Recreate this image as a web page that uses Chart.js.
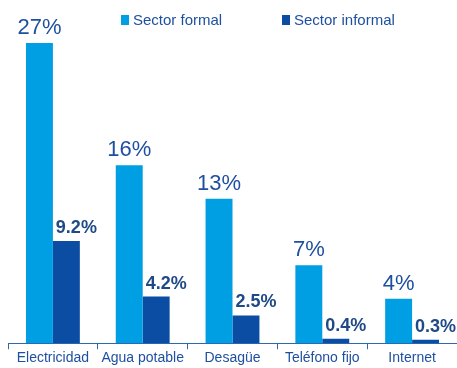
<!DOCTYPE html>
<html>
<head>
<meta charset="utf-8">
<script src="https://cdn.jsdelivr.net/npm/chart.js@4/dist/chart.umd.min.js"></script>
<style>
  body { margin: 0; background: #fff; }
</style>
</head>
<body>
<canvas id="myChart" width="457" height="368"></canvas>
<script>
// services coverage by sector
const categories = ['Electricidad', 'Agua potable', 'Desagüe', 'Teléfono fijo', 'Internet'];
const formalValues = [27, 16, 13, 7, 4];
const informalValues = [9.2, 4.2, 2.5, 0.4, 0.3];
const formalLabels = ['27%', '16%', '13%', '7%', '4%'];
const informalLabels = ['9.2%', '4.2%', '2.5%', '0.4%', '0.3%'];

const FONT = '"Liberation Sans", Arial, sans-serif';
const TEXT_BLUE = '#1F50A0';

// value labels above the bars + legend across the top
const barLabels = {
    id: 'barLabels',
    afterDatasetsDraw(chart) {
        const ctx = chart.ctx;
        ctx.save();
        ctx.textAlign = 'center';
        ctx.textBaseline = 'alphabetic';

        chart.getDatasetMeta(0).data.forEach((bar, i) => {
            ctx.font = '22px ' + FONT;
            ctx.fillStyle = TEXT_BLUE;
            ctx.fillText(formalLabels[i], bar.x, bar.y - 9);
        });
        chart.getDatasetMeta(1).data.forEach((bar, i) => {
            ctx.font = 'bold 18px ' + FONT;
            ctx.fillStyle = '#1F4A86';
            ctx.fillText(informalLabels[i], bar.x + 10, bar.y - 8);
        });

        // legend
        const items = [{ x: 121 }, { x: 282 }];
        ctx.textAlign = 'left';
        ctx.textBaseline = 'middle';
        ctx.font = '15px ' + FONT;
        chart.data.datasets.forEach((ds, i) => {
            ctx.fillStyle = ds.backgroundColor;
            ctx.fillRect(items[i].x, 15, 8, 10);
            ctx.fillStyle = TEXT_BLUE;
            ctx.fillText(ds.label, items[i].x + 12, 21);
        });
        ctx.restore();
    }
};

let ctx = document.getElementById('myChart').getContext('2d');
new Chart(ctx, {
    type: 'bar',
    data: {
        labels: categories,
        datasets: [
            { label: 'Sector formal', data: formalValues, backgroundColor: '#009FE3' },
            { label: 'Sector informal', data: informalValues, backgroundColor: '#0B4DA2' }
        ]
    },
    options: {
        responsive: false,
        animation: false,
        layout: { padding: { top: 43, left: 8, right: 0, bottom: 0 } },
        datasets: {
            bar: { categoryPercentage: 0.6, barPercentage: 1.0 }
        },
        plugins: {
            legend: { display: false },
            tooltip: { enabled: false }
        },
        scales: {
            x: {
                offset: true,
                grid: {
                    display: true,
                    offset: true,
                    drawOnChartArea: false,
                    tickLength: 6,
                    color: '#2E66B5'
                },
                border: { display: true, color: '#2E66B5', width: 1 },
                ticks: {
                    padding: 1,
                    color: TEXT_BLUE,
                    font: { family: FONT, size: 14 }
                }
            },
            y: {
                display: false,
                min: 0,
                max: 27
            }
        }
    },
    plugins: [barLabels]
});
</script>
</body>
</html>
